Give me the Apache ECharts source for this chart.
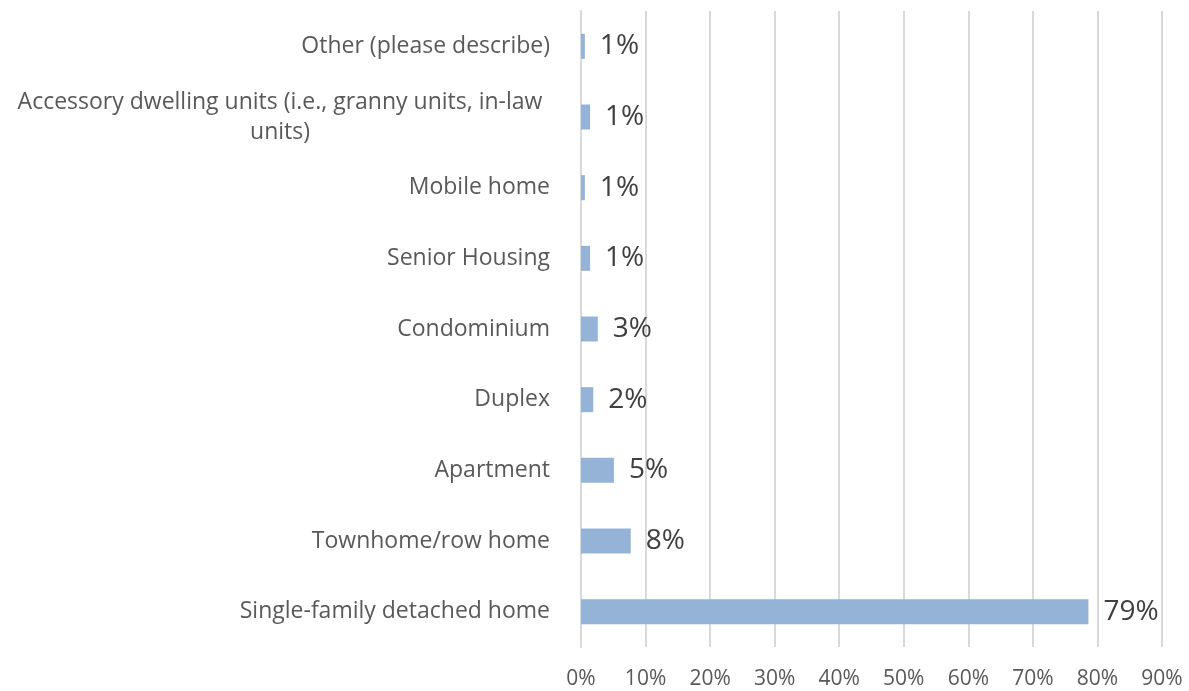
<!DOCTYPE html>
<html>
<head>
<meta charset="utf-8">
<script src="https://cdn.jsdelivr.net/npm/echarts@6/dist/echarts.min.js"></script>
<style>
  html, body { margin: 0; padding: 0; background: #fff; }
  #chart { width: 1189px; height: 691px; }
</style>
</head>
<body>
<div id="chart"></div>
<script>
// categories bottom to top
var categories = [
  'Single-family detached home',
  'Townhome/row home',
  'Apartment',
  'Duplex',
  'Condominium',
  'Senior Housing',
  'Mobile home',
  'Accessory dwelling units (i.e., granny units, in-law units)',
  'Other (please describe)'
];
var shares = [78.6, 7.7, 5.1, 1.9, 2.6, 1.4, 0.6, 1.4, 0.6];
var xTicks = [0, 10, 20, 30, 40, 50, 60, 70, 80, 90];

var myChart = echarts.init(document.getElementById('chart'));
myChart.setOption({
  animation: false,
  textStyle: { fontFamily: 'Open Sans' },
  grid: { left: 581, right: 27, top: 11, bottom: 44 },
  xAxis: {
    type: 'value',
    min: xTicks[0],
    max: xTicks[xTicks.length - 1],
    interval: 10,
    axisLine: { show: false },
    axisTick: { show: false },
    splitLine: { lineStyle: { color: '#d9d9d9', width: 2 } },
    axisLabel: {
      formatter: '{value}%',
      color: '#595959',
      fontSize: 21,
      margin: 22
    }
  },
  yAxis: {
    type: 'category',
    data: categories,
    axisLine: { show: true, lineStyle: { color: '#d9d9d9', width: 2 } },
    axisTick: { show: false },
    axisLabel: {
      color: '#595959',
      fontSize: 23,
      margin: 31,
      formatter: function (v) {
        if (v.indexOf('Accessory') === 0) {
          return '{c|Accessory dwelling units (i.e., granny units, in-law\nunits)}';
        }
        return v;
      },
      rich: {
        c: { align: 'center', width: 540, fontSize: 23, color: '#595959', lineHeight: 30 }
      }
    }
  },
  series: [{
    type: 'bar',
    data: shares,
    barWidth: 25,
    itemStyle: { color: '#95b3d7' },
    label: {
      show: true,
      position: 'right',
      distance: 15,
      fontSize: 28,
      color: '#404040',
      formatter: function (p) { return Math.round(p.value) + '%'; }
    }
  }]
});
</script>
</body>
</html>
